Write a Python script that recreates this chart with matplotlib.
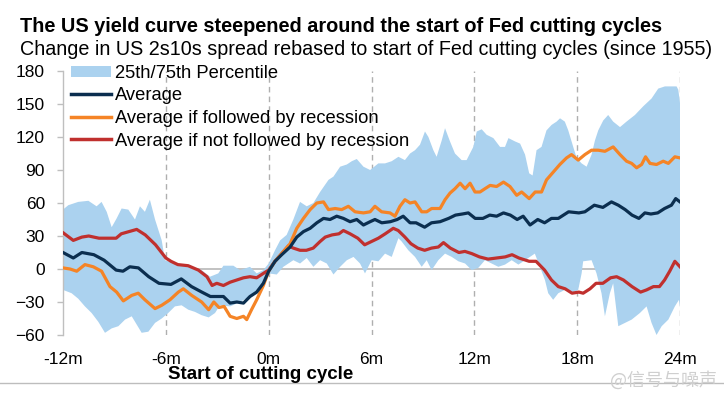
import numpy as np
import matplotlib
matplotlib.use("Agg")
import matplotlib.pyplot as plt
from matplotlib.patches import Patch
from matplotlib.lines import Line2D

# ---------------- data (months relative to start of cutting cycle, bp) ----------------
m_avg = [-12.0, -11.4, -10.9, -10.2, -9.6, -8.9, -8.5, -8.1, -7.6, -7.0, -6.4, -5.7, -5.1, -4.5,
         -3.9, -3.4, -3.03, -2.64, -2.25, -1.86, -1.47, -1.09, -0.7, -0.31, 0.0, 0.37, 0.76, 1.25,
         1.64, 2.03, 2.42, 2.81, 3.2, 3.58, 3.97, 4.36, 4.75, 5.14, 5.53, 5.92, 6.2, 6.6, 7.1, 7.5,
         7.85, 8.25, 8.6, 9.1, 9.5, 10.0, 10.5, 10.9, 11.3, 11.65, 12.05, 12.5, 12.9, 13.3, 13.7,
         14.1, 14.5, 14.85, 15.25, 15.7, 16.1, 16.5, 16.9, 17.5, 18.1, 18.45, 19.0, 19.5, 20.0,
         20.4, 20.8, 21.2, 21.6, 21.95, 22.3, 22.7, 23.1, 23.5, 23.75, 24.0]
v_avg = [15, 10, 15, 13, 8, -1, -2, 2, 1, -7, -13, -14, -9, -16,
         -21, -25, -25, -25, -31, -30, -31, -25, -21, -13, -2, 7, 13, 20,
         29, 34, 37, 42, 46, 45, 48, 46, 43, 45, 40, 43, 45, 42, 43, 45,
         48, 42, 42, 38, 42, 43, 46, 49, 50, 51, 46, 46, 49, 48, 51,
         49, 45, 48, 40, 45, 42, 46, 46, 52, 51, 52, 58, 56, 61,
         58, 54, 49, 46, 51, 50, 51, 55, 58, 64, 61]

m_rec = [-12.0, -11.59, -11.2, -10.72, -10.23, -9.75, -9.26, -8.87, -8.48, -7.99, -7.61, -7.22,
         -6.63, -6.24, -5.76, -5.27, -4.98, -4.49, -3.91, -3.5, -3.2, -2.9, -2.6, -2.25, -1.86,
         -1.47, -1.28, -1.0, -0.7, -0.31, 0.0, 0.37, 0.76, 1.25, 1.64, 2.03, 2.42, 2.81, 3.2,
         3.49, 3.88, 4.26, 4.65, 5.04, 5.53, 5.92, 6.2, 6.59, 7.08, 7.37, 7.66, 7.95, 8.25, 8.54,
         8.93, 9.22, 9.51, 10.0, 10.29, 10.58, 10.87, 11.17, 11.46, 11.75, 12.04, 12.33, 12.62,
         12.92, 13.3, 13.7, 14.08, 14.47, 14.76, 15.2, 15.55, 15.92, 16.21, 16.6, 16.99, 17.38,
         17.67, 18.06, 18.45, 18.84, 19.23, 19.62, 20.1, 20.5, 20.88, 21.18, 21.47, 21.76, 21.99,
         22.25, 22.63, 23.02, 23.32, 23.7, 24.0]
v_rec = [1, 0, -2, 4, 2, -2, -16, -21, -29, -24, -22, -28,
         -36, -33, -28, -21, -18, -24, -30, -37, -30, -35, -34, -43, -45,
         -43, -46, -37, -28, -15, -2, 7, 14, 23, 37, 46, 54, 60, 61,
         54, 55, 54, 57, 52, 51, 52, 57, 52, 51, 48, 57, 63, 60, 61,
         52, 52, 55, 55, 63, 69, 73, 78, 73, 78, 70, 70, 73,
         76, 75, 79, 75, 67, 70, 64, 70, 70, 81, 88, 95, 101,
         104, 99, 104, 108, 108, 107, 111, 104, 98, 96, 92, 95, 102,
         96, 95, 98, 96, 102, 101]

m_norec = [-12.0, -11.4, -10.9, -10.5, -9.9, -9.4, -8.9, -8.6, -7.7, -7.2, -6.6, -6.0, -5.7, -5.3,
           -4.7, -4.1, -3.6, -3.3, -3.03, -2.64, -2.25, -1.86, -1.47, -1.09, -0.7, -0.31, 0.0,
           0.37, 0.76, 1.15, 1.44, 1.83, 2.2, 2.6, 3.0, 3.3, 3.7, 4.1, 4.36, 4.75, 5.2, 5.6, 6.0,
           6.4, 6.8, 7.27, 7.56, 7.95, 8.3, 8.7, 9.1, 9.5, 9.9, 10.2, 10.6, 11.1, 11.45, 11.85,
           12.3, 12.8, 13.3, 13.8, 14.2, 14.6, 15.2, 15.6, 16.1, 16.5, 16.9, 17.3, 17.7, 18.1,
           18.35, 18.75, 19.1, 19.5, 19.95, 20.3, 20.7, 21.2, 21.7, 22.05, 22.45, 22.8, 23.1,
           23.4, 23.7, 24.0]
v_norec = [33, 26, 29, 30, 28, 28, 28, 32, 36, 31, 22, 10, 7, 4,
           3, -1, -7, -15, -13, -15, -12, -10, -8, -7, -8, -4, -1,
           7, 14, 21, 19, 17, 17, 19, 25, 29, 31, 32, 35, 32, 28, 22, 25,
           28, 32, 37, 35, 29, 23, 19, 17, 19, 20, 24, 19, 15, 16, 14,
           11, 9, 10, 11, 13, 10, 7, 7, -1, -10, -16, -18, -22, -21,
           -22, -18, -13, -13, -8, -7, -10, -16, -21, -19, -16, -16, -10,
           -2, 7, 2]

m_p75 = [-12.0, -11.69, -11.11, -10.52, -10.04, -9.75, -9.45, -9.16, -8.87, -8.58, -8.19, -7.8,
         -7.51, -7.22, -6.93, -6.63, -6.24, -6.05, -5.47, -4.69, -3.91, -3.42, -2.94, -2.64,
         -2.06, -1.67, -1.09, -0.7, -0.31, 0.0, 0.37, 0.67, 1.05, 1.44, 1.83, 2.22, 2.61, 3.0,
         3.49, 3.78, 4.17, 4.56, 4.85, 5.14, 5.53, 5.92, 6.4, 6.79, 7.18, 7.57, 7.95, 8.25, 8.54,
         8.83, 9.12, 9.32, 9.61, 9.8, 10.1, 10.29, 10.58, 10.87, 11.26, 11.55, 11.94, 12.14,
         12.43, 12.72, 13.11, 13.5, 13.79, 13.99, 14.37, 14.67, 14.96, 15.2, 15.4, 15.63, 15.92,
         16.21, 16.51, 16.8, 17.0, 17.28, 17.48, 17.77, 17.97, 18.26, 18.55, 18.84, 19.04, 19.23,
         19.52, 19.81, 20.1, 20.5, 20.88, 21.37, 21.86, 22.34, 22.73, 23.12, 23.8, 23.9, 24.0]
v_p75 = [54, 58, 61, 62, 57, 61, 52, 38, 46, 55, 54, 45,
         57, 52, 63, 45, 26, 8, 5, 2, -1, -7, -4, 3,
         3, -1, 2, -4, -1, 5, 17, 26, 31, 45, 61, 57, 60, 70,
         81, 84, 93, 95, 98, 100, 93, 90, 96, 96, 98, 102, 99, 105, 108,
         113, 125, 120, 108, 102, 117, 128, 116, 105, 99, 99, 111, 125,
         127, 122, 119, 111, 111, 119, 116, 114, 104, 87, 85, 108, 111,
         126, 131, 134, 137, 134, 126, 111, 101, 96, 93, 104, 117, 126,
         135, 140, 134, 129, 134, 140, 148, 155, 164, 166, 166, 163, 151]

m_p25 = [-12.0, -11.5, -11.11, -10.72, -10.33, -9.94, -9.55, -9.16, -8.77, -8.38, -7.99, -7.41,
         -7.02, -6.63, -6.24, -5.86, -5.47, -5.08, -4.69, -4.3, -3.91, -3.5, -3.13, -2.84, -2.25,
         -1.67, -1.09, -0.7, -0.31, 0.0, 0.47, 0.86, 1.44, 1.83, 2.22, 2.61, 3.0, 3.39, 3.78,
         4.17, 4.56, 4.95, 5.33, 5.62, 6.01, 6.4, 6.79, 7.18, 7.57, 7.76, 8.15, 8.54, 8.93, 9.22,
         9.51, 9.9, 10.29, 10.68, 11.07, 11.46, 11.85, 12.23, 12.62, 13.01, 13.4, 13.79, 14.18,
         14.57, 14.96, 15.53, 16.12, 16.31, 16.6, 16.9, 17.28, 17.67, 18.06, 18.26, 18.35, 18.84,
         19.13, 19.42, 19.62, 19.91, 20.1, 20.4, 20.79, 21.18, 21.66, 22.05, 22.34, 22.63, 22.93,
         23.32, 23.7, 23.94, 24.0]
v_p25 = [-19, -22, -27, -34, -40, -48, -58, -54, -52, -46, -43, -58,
         -57, -49, -45, -40, -34, -33, -37, -39, -42, -44, -40, -33, -34,
         -30, -25, -21, -12, -4, -5, 2, 8, 5, 10, 2, 8, 5, -5,
         2, 8, 11, 5, -4, 8, 7, 14, 11, 28, 25, 17, 11, 2, 8,
         -1, 8, 14, 11, 7, 5, -1, 1, 8, 5, 2, 4, 8,
         4, 8, 14, -10, -22, -28, -22, -19, -22, -19, -4, 7, 8,
         -4, -22, -43, -22, -13, -52, -49, -46, -40, -34, -49, -60, -52,
         -46, -34, -28, -34]

x_ticks = [-12, -6, 0, 6, 12, 18, 24]
x_ticklabels = ["-12m", "-6m", "0m", "6m", "12m", "18m", "24m"]
y_ticks = [-60, -30, 0, 30, 60, 90, 120, 150, 180]

labels = ["25th/75th Percentile", "Average", "Average if followed by recession",
          "Average if not followed by recession"]

# ---------------- styling ----------------
C_BAND = "#ABD2EF"
C_AVG = "#0B2E4F"
C_REC = "#F58426"
C_NOREC = "#C0302E"
GRID = "#AFAFAF"

plt.rcParams["font.family"] = ["Liberation Sans", "DejaVu Sans"]

fig = plt.figure(figsize=(7.24, 3.99), dpi=100)
ax = fig.add_axes([63 / 724, 1 - 335 / 399, (680 - 63) / 724, (335 - 71) / 399])

# band as polygon (upper forward, lower reversed)
band_x = list(m_p75) + list(m_p25[::-1])
band_y = list(v_p75) + list(v_p25[::-1])
ax.fill(band_x, band_y, color=C_BAND, lw=0, zorder=2)

# vertical dashed grid
for t in x_ticks[1:]:
    ax.axvline(t, color=GRID, lw=1.0, ls=(0, (4, 3)), zorder=1)
ax.axhline(0, color="#BDBDBD", lw=1.3, zorder=1)

lw = 2.3
ax.plot(m_norec, v_norec, color=C_NOREC, lw=lw, zorder=4, solid_joinstyle="round")
ax.plot(m_rec, v_rec, color=C_REC, lw=lw, zorder=5, solid_joinstyle="round")
ax.plot(m_avg, v_avg, color=C_AVG, lw=lw, zorder=6, solid_joinstyle="round")

ax.set_xlim(-12, 24)
ax.set_ylim(-60, 180)
ax.set_xticks(x_ticks)
ax.set_xticklabels(x_ticklabels)
ax.set_yticks(y_ticks)
for s in ["top", "right", "bottom"]:
    ax.spines[s].set_visible(False)
ax.spines["left"].set_color("#BFBFBF")
ax.spines["left"].set_linewidth(1.0)
ax.tick_params(axis="y", length=4, width=1.0, color="#BFBFBF", pad=9, labelsize=12.5)
ax.tick_params(axis="x", length=0, pad=12, labelsize=12.5)
ax.set_facecolor("none")

# legend
handles = [Patch(facecolor=C_BAND, edgecolor="none"),
           Line2D([], [], color=C_AVG, lw=2.5),
           Line2D([], [], color=C_REC, lw=2.5),
           Line2D([], [], color=C_NOREC, lw=2.5)]
leg = fig.legend(handles, labels, loc="upper left", bbox_to_anchor=(71 / 724, 1 - 65 / 399),
                 frameon=False, fontsize=13.2, handlelength=2.2, handleheight=0.55,
                 handletextpad=0.2, labelspacing=0.3, borderpad=0, borderaxespad=0)

# titles
fig.text(0.027, 1 - 31.7 / 399, "The US yield curve steepened around the start of Fed cutting cycles",
         fontsize=14.3, fontweight="bold", va="baseline", ha="left")
fig.text(0.027, 1 - 55 / 399, "Change in US 2s10s spread rebased to start of Fed cutting cycles (since 1955)",
         fontsize=14.2, va="baseline", ha="left")
fig.text(168 / 724, 1 - 379 / 399, "Start of cutting cycle", fontsize=13.5, fontweight="bold",
         va="baseline", ha="left")

# bottom rule and watermark
fig.add_artist(Line2D([0, 1], [1 - 383 / 399, 1 - 383 / 399], color="#BDBDBD", lw=1.0,
                      transform=fig.transFigure))
fig.text(610 / 724, 1 - 380 / 399, "@信号与噪声", fontsize=13, color="#CFCFCF",
         family=["Noto Sans CJK SC", "DejaVu Sans"], va="center", ha="left", zorder=10)

fig.savefig("out.png", dpi=100)
